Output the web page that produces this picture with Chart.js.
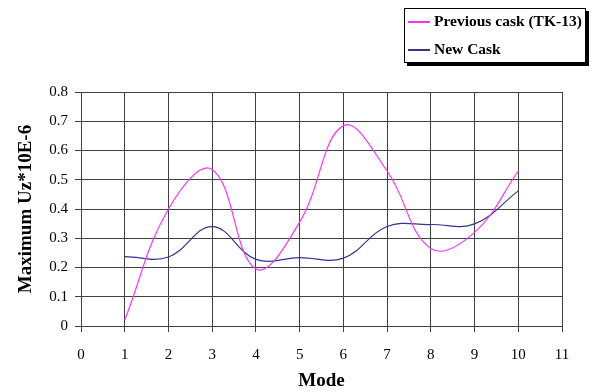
<!DOCTYPE html>
<html>
<head>
<meta charset="utf-8">
<script src="https://cdn.jsdelivr.net/npm/chart.js@4/dist/chart.umd.min.js"></script>
<style>
  html, body { margin: 0; padding: 0; background: #fff; }
  #wrap { position: relative; width: 592px; height: 392px; }
  #legend {
    position: absolute; left: 404px; top: 8px; width: 180px; height: 53px;
    border: 1px solid #000; background: #fff; box-shadow: 3px 3px 0 #000;
    font: bold 15.5px "Liberation Serif", "Times New Roman", serif; color: #000;
  }
  #legend .item { position: absolute; left: 3px; height: 16px; line-height: 16px; white-space: nowrap; }
  #legend .swatch { display: inline-block; width: 22px; height: 2px; vertical-align: middle; margin-right: 4px; }
</style>
</head>
<body>
<div id="wrap">
  <canvas id="chart" width="592" height="392"></canvas>
  <div id="legend"></div>
</div>
<script>
document.addEventListener('DOMContentLoaded', () => {

    const modes = [1, 2, 3, 4, 5, 6, 7, 8, 9, 10];
    const previousCask = [0.02, 0.40, 0.535, 0.195, 0.355, 0.685, 0.53, 0.265, 0.32, 0.53];
    const newCask = [0.237, 0.236, 0.34, 0.228, 0.234, 0.232, 0.34, 0.347, 0.349, 0.462];
    const seriesNames = ['Previous cask (TK-13)', 'New Cask'];
    const seriesColors = ['#ff33ff', '#34348f'];

    const serif = '"Liberation Serif", "Times New Roman", serif';
    const gridColor = '#404040';

    const toPoints = (vals) => modes.map((m, i) => ({ x: m, y: vals[i] }));

    const ctx = document.querySelector('#chart');
    new Chart(ctx, {
        type: 'line',
        data: {
            datasets: [
                {
                    label: seriesNames[0],
                    data: toPoints(previousCask),
                    borderColor: seriesColors[0],
                    borderWidth: 1.2,
                    pointRadius: 0,
                    tension: 0.4,
                    fill: false
                },
                {
                    label: seriesNames[1],
                    data: toPoints(newCask),
                    borderColor: seriesColors[1],
                    borderWidth: 1.2,
                    pointRadius: 0,
                    tension: 0.4,
                    fill: false
                }
            ]
        },
        options: {
            responsive: false,
            animation: false,
            layout: { padding: { top: 92, right: 30, left: 0, bottom: 0 } },
            plugins: { legend: { display: false }, tooltip: { enabled: false } },
            scales: {
                x: {
                    type: 'linear',
                    min: 0,
                    max: 11,
                    ticks: { stepSize: 1, color: '#000', font: { family: serif, size: 15 }, padding: 14 },
                    grid: { color: gridColor, lineWidth: 1, tickLength: 6 },
                    border: { color: gridColor, width: 1 },
                    title: { display: true, text: 'Mode', color: '#000', font: { family: serif, size: 19, weight: 'bold' }, padding: { top: 0, bottom: 0 } },
                    afterFit: (scale) => { scale.height = 66; }
                },
                y: {
                    min: 0,
                    max: 0.8,
                    ticks: { stepSize: 0.1, color: '#000', font: { family: serif, size: 15 }, padding: 7,
                        callback: (v) => Math.round(v * 10) / 10 },
                    grid: { color: gridColor, lineWidth: 1, tickLength: 6 },
                    border: { color: gridColor, width: 1 },
                    title: { display: true, text: 'Maximum Uz*10E-6', color: '#000', font: { family: serif, size: 19, weight: 'bold' }, padding: { top: 15, bottom: 0 } },
                    afterFit: (scale) => { scale.width = 81; }
                }
            }
        }
    });

    // legend box, built from the series names and colours
    const legend = document.querySelector('#legend');
    seriesNames.forEach((name, i) => {
        const item = document.createElement('div');
        item.className = 'item';
        item.style.top = (i === 0 ? 4 : 32) + 'px';
        item.innerHTML = '<span class="swatch" style="background:' + seriesColors[i] + '"></span>' + name;
        legend.appendChild(item);
    });
});
</script>
</body>
</html>
